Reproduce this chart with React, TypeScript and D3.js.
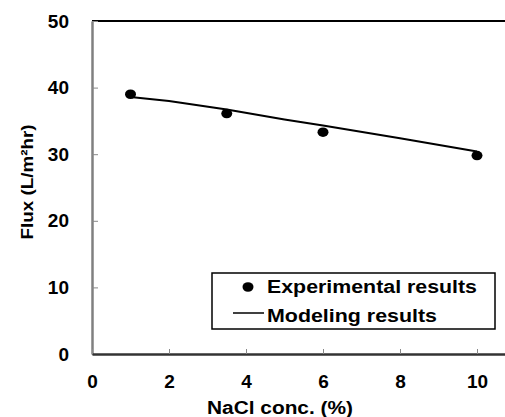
import { useEffect, useRef } from "react";
import { select, scaleLinear, axisBottom, axisLeft, line } from "d3";

// experimental points
const expConc = [1, 3.5, 6, 10];
const expFlux = [39.0, 36.1, 33.3, 29.8];

// model curve
const modelConc = [1, 2, 3.5, 5, 6, 8, 10];
const modelFlux = [38.6, 38.0, 36.7, 35.2, 34.3, 32.4, 30.4];

const xTicks = [0, 2, 4, 6, 8, 10];
const yTicks = [0, 10, 20, 30, 40, 50];

const legendLabels = ["Experimental results", "Modeling results"];

const FONT = "'Liberation Sans', Arial, sans-serif";

export default function App() {
  const ref = useRef<SVGSVGElement>(null);

  useEffect(() => {
    const svg = select(ref.current);
    svg.selectAll("*").remove();

    const W = 505, H = 417;
    const left = 92, top = 21, bottom = 354;

    const x = scaleLinear().domain([0, 11]).range([left, left + 11 * 38.5]);
    const y = scaleLinear().domain([0, 50]).range([bottom, top]);

    // top frame line
    svg.append("line")
      .attr("x1", left).attr("x2", x(11))
      .attr("y1", top).attr("y2", top)
      .attr("stroke", "#000").attr("stroke-width", 2);

    const yAxis = axisLeft(y).tickValues(yTicks).tickSizeInner(-6).tickSizeOuter(0).tickPadding(23);
    const gy = svg.append("g").attr("transform", `translate(${left},0)`).call(yAxis);
    gy.select(".domain").attr("stroke", "#808080").attr("stroke-width", 2.5);
    gy.selectAll(".tick line").attr("stroke", "#888").attr("stroke-width", 1);
    gy.selectAll(".tick text")
      .attr("font-family", FONT).attr("font-weight", "bold").attr("font-size", 19)
      .attr("fill", "#000");

    const xAxis = axisBottom(x).tickValues(xTicks).tickSizeInner(-5).tickSizeOuter(0).tickPadding(21);
    const gx = svg.append("g").attr("transform", `translate(0,${bottom})`).call(xAxis);
    gx.select(".domain").attr("stroke", "#333").attr("stroke-width", 2.5);
    gx.selectAll(".tick line").attr("stroke", "#888").attr("stroke-width", 1);
    gx.selectAll(".tick text")
      .attr("font-family", FONT).attr("font-weight", "bold").attr("font-size", 19)
      .attr("fill", "#000");

    // model line
    const lineGen = line<number>()
      .x((_, i) => x(modelConc[i]))
      .y((d) => y(d));
    svg.append("path")
      .attr("d", lineGen(modelFlux))
      .attr("fill", "none").attr("stroke", "#000").attr("stroke-width", 2);

    // experimental points
    svg.selectAll("ellipse.pt")
      .data(expFlux)
      .enter().append("ellipse")
      .attr("class", "pt")
      .attr("cx", (_, i) => x(expConc[i]))
      .attr("cy", (d) => y(d))
      .attr("rx", 5.5).attr("ry", 4.8)
      .attr("fill", "#000");

    // axis titles
    svg.append("text")
      .attr("x", 280).attr("y", 414)
      .attr("text-anchor", "middle")
      .attr("font-family", FONT).attr("font-weight", "bold").attr("font-size", 18)
      .attr("textLength", 146).attr("lengthAdjust", "spacingAndGlyphs")
      .text("NaCl conc. (%)");

    svg.append("text")
      .attr("transform", "translate(33,182) rotate(-90)")
      .attr("text-anchor", "middle")
      .attr("font-family", FONT).attr("font-weight", "bold").attr("font-size", 17)
      .attr("textLength", 115).attr("lengthAdjust", "spacingAndGlyphs")
      .text("Flux (L/m²hr)");

    // legend
    const lg = svg.append("g");
    lg.append("rect")
      .attr("x", 212).attr("y", 273).attr("width", 283).attr("height", 56)
      .attr("fill", "#fff").attr("stroke", "#000").attr("stroke-width", 1.5);
    lg.append("ellipse")
      .attr("cx", 248).attr("cy", 287).attr("rx", 5.5).attr("ry", 4.8).attr("fill", "#000");
    lg.append("line")
      .attr("x1", 233).attr("x2", 264).attr("y1", 313).attr("y2", 313)
      .attr("stroke", "#000").attr("stroke-width", 1.5);
    const lens = [210, 170];
    legendLabels.forEach((t, i) => {
      lg.append("text")
        .attr("x", 267).attr("y", 293 + i * 29)
        .attr("font-family", FONT).attr("font-weight", "bold").attr("font-size", 18)
        .attr("textLength", lens[i]).attr("lengthAdjust", "spacingAndGlyphs")
        .text(t);
    });

    svg.attr("width", W).attr("height", H);
  }, []);

  return (
    <svg
      ref={ref}
      width={505}
      height={417}
      style={{ position: "absolute", left: 0, top: 0, background: "#fff" }}
    />
  );
}
